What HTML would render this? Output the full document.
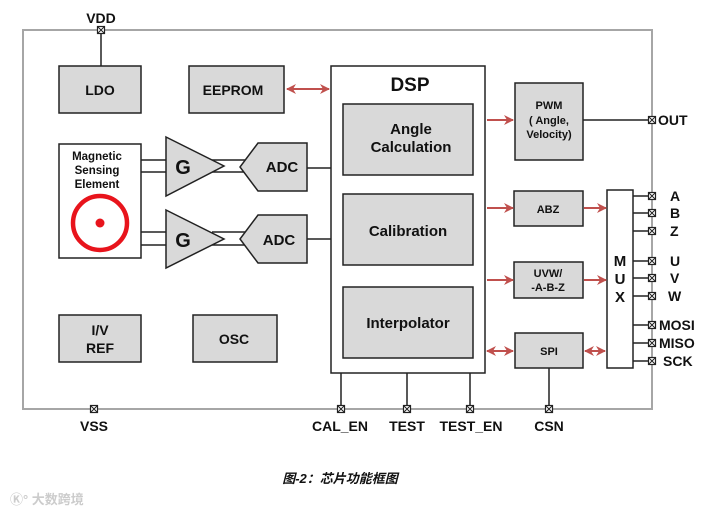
<!DOCTYPE html>
<html><head><meta charset="utf-8"><style>
html,body{margin:0;padding:0;background:#fff}
svg{display:block}
text{font-family:"Liberation Sans","Noto Sans CJK SC",sans-serif;font-weight:bold;fill:#111}
</style></head><body>
<svg width="715" height="514" viewBox="0 0 715 514" xmlns="http://www.w3.org/2000/svg">
<defs>
<marker id="ah" viewBox="0 0 10 10" refX="9" refY="5" markerWidth="5" markerHeight="5" orient="auto-start-reverse"><path d="M0,0 L10,5 L0,10 L3,5 z" fill="#c0504d"/></marker>
<g id="pin"><rect x="-3.5" y="-3.5" width="7" height="7" fill="#fff" stroke="#222" stroke-width="1.2"/><path d="M-3.5,-3.5L3.5,3.5M3.5,-3.5L-3.5,3.5" stroke="#222" stroke-width="1"/></g>
</defs>
<rect x="23" y="30" width="629" height="379" fill="none" stroke="#a6a6a6" stroke-width="2"/>
<g stroke="#222" stroke-width="1.5" fill="#d9d9d9">
<line x1="101" y1="30" x2="101" y2="66"/>
<rect x="59" y="66" width="82" height="47"/>
<rect x="189" y="66" width="95" height="47"/>
<rect x="331" y="66" width="154" height="307" fill="#fff"/>
<rect x="343" y="104" width="130" height="71"/>
<rect x="343" y="194" width="130" height="71"/>
<rect x="343" y="287" width="130" height="71"/>
<rect x="59" y="144" width="82" height="114" fill="#fff"/>
<line x1="141" y1="160" x2="166" y2="160"/><line x1="141" y1="172" x2="166" y2="172"/>
<line x1="141" y1="232" x2="166" y2="232"/><line x1="141" y1="245" x2="166" y2="245"/>
<line x1="212" y1="160" x2="250" y2="160"/><line x1="212" y1="172" x2="250" y2="172"/>
<line x1="212" y1="232" x2="250" y2="232"/><line x1="212" y1="245" x2="250" y2="245"/>
<polygon points="166,137 224,166 166,196"/>
<polygon points="166,210 224,239 166,268"/>
<polygon points="258,143 307,143 307,191 258,191 240,167"/>
<polygon points="258,215 307,215 307,263 258,263 240,239"/>
<line x1="307" y1="168" x2="331" y2="168"/><line x1="307" y1="239" x2="331" y2="239"/>
<rect x="59" y="315" width="82" height="47"/>
<rect x="193" y="315" width="84" height="47"/>
<rect x="515" y="83" width="68" height="77"/>
<line x1="583" y1="120" x2="652" y2="120"/>
<rect x="514" y="191" width="69" height="35"/>
<rect x="514" y="262" width="69" height="36"/>
<rect x="515" y="333" width="68" height="35"/>
<rect x="607" y="190" width="26" height="178" fill="#fff"/>
<path d="M633,196H652M633,213H652M633,231H652M633,261H652M633,278H652M633,296H652M633,325H652M633,343H652M633,361H652" fill="none"/>
<path d="M341,373V409M407,373V409M470,373V409M549,368V409" fill="none"/>
</g>
<circle cx="100" cy="223" r="27" fill="none" stroke="#e8141c" stroke-width="4.5"/>
<circle cx="100" cy="223" r="4.5" fill="#e8141c"/>
<g stroke="#c0504d" stroke-width="2" fill="none">
<line x1="287" y1="89" x2="329" y2="89" marker-start="url(#ah)" marker-end="url(#ah)"/>
<line x1="487" y1="120" x2="513" y2="120" marker-end="url(#ah)"/>
<line x1="487" y1="208" x2="513" y2="208" marker-end="url(#ah)"/>
<line x1="584" y1="208" x2="606" y2="208" marker-end="url(#ah)"/>
<line x1="487" y1="280" x2="513" y2="280" marker-end="url(#ah)"/>
<line x1="584" y1="280" x2="606" y2="280" marker-end="url(#ah)"/>
<line x1="487" y1="351" x2="513" y2="351" marker-start="url(#ah)" marker-end="url(#ah)"/>
<line x1="585" y1="351" x2="605" y2="351" marker-start="url(#ah)" marker-end="url(#ah)"/>
</g>
<g>
<use href="#pin" x="101" y="30"/>
<use href="#pin" x="94" y="409"/><use href="#pin" x="341" y="409"/><use href="#pin" x="407" y="409"/><use href="#pin" x="470" y="409"/><use href="#pin" x="549" y="409"/>
<use href="#pin" x="652" y="120"/>
<use href="#pin" x="652" y="196"/><use href="#pin" x="652" y="213"/><use href="#pin" x="652" y="231"/><use href="#pin" x="652" y="261"/><use href="#pin" x="652" y="278"/><use href="#pin" x="652" y="296"/><use href="#pin" x="652" y="325"/><use href="#pin" x="652" y="343"/><use href="#pin" x="652" y="361"/>
</g>
<g text-anchor="middle">
<text x="101" y="23" font-size="14">VDD</text>
<text x="100" y="95" font-size="14">LDO</text>
<text x="233" y="95" font-size="14">EEPROM</text>
<text x="410" y="91" font-size="19">DSP</text>
<text x="411" y="134" font-size="15">Angle</text>
<text x="411" y="152" font-size="15">Calculation</text>
<text x="408" y="236" font-size="15">Calibration</text>
<text x="408" y="328" font-size="15">Interpolator</text>
<text x="97" y="160" font-size="11.5">Magnetic</text>
<text x="97" y="174" font-size="11.5">Sensing</text>
<text x="97" y="188" font-size="11.5">Element</text>
<text x="183" y="174" font-size="20">G</text>
<text x="183" y="247" font-size="20">G</text>
<text x="282" y="172" font-size="15">ADC</text>
<text x="279" y="245" font-size="15">ADC</text>
<text x="100" y="335" font-size="14">I/V</text>
<text x="100" y="353" font-size="14">REF</text>
<text x="234" y="344" font-size="14">OSC</text>
<text x="549" y="109" font-size="11">PWM</text>
<text x="549" y="124" font-size="11">( Angle,</text>
<text x="549" y="138" font-size="11">Velocity)</text>
<text x="548" y="213" font-size="11">ABZ</text>
<text x="548" y="277" font-size="11">UVW/</text>
<text x="548" y="291" font-size="11">-A-B-Z</text>
<text x="549" y="355" font-size="11">SPI</text>
<text x="620" y="266" font-size="15">M</text>
<text x="620" y="284" font-size="15">U</text>
<text x="620" y="302" font-size="15">X</text>
<text x="94" y="431" font-size="14">VSS</text>
<text x="340" y="431" font-size="14">CAL_EN</text>
<text x="407" y="431" font-size="14">TEST</text>
<text x="471" y="431" font-size="14">TEST_EN</text>
<text x="549" y="431" font-size="14">CSN</text>
</g>
<g font-size="14">
<text x="658" y="125">OUT</text>
<text x="670" y="201">A</text><text x="670" y="218">B</text><text x="670" y="236">Z</text>
<text x="670" y="266">U</text><text x="670" y="283">V</text><text x="668" y="301">W</text>
<text x="659" y="330">MOSI</text><text x="659" y="348">MISO</text><text x="663" y="366">SCK</text>
</g>
<text x="340" y="483" font-size="13" font-style="italic" text-anchor="middle" fill="#222">图-2：芯片功能框图</text>
<text x="10" y="504" font-size="13" font-weight="normal" style="fill:#ccc">Ⓚ° 大数跨境</text>
</svg>
</body></html>
